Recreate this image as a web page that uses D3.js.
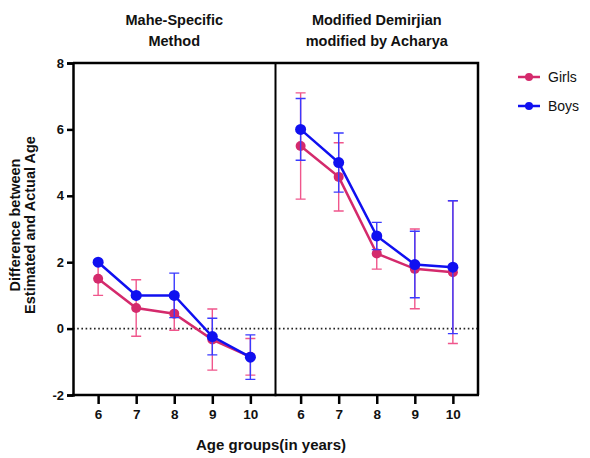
<!DOCTYPE html>
<html>
<head>
<meta charset="utf-8">
<script src="https://cdn.jsdelivr.net/npm/d3@7"></script>
<style>
  body { margin: 0; background: #fff; }
  text { font-family: "Liberation Sans", Arial, sans-serif; }
</style>
</head>
<body>
<svg id="chart" width="590" height="458"></svg>
<script>
var ages = ["6", "7", "8", "9", "10"];
var panels = ["Mahe-Specific\nMethod", "Modified Demirjian\nmodified by Acharya"];
var yTicks = [-2, 0, 2, 4, 6, 8];

// mean and error (+/-) per age group, one array per panel
var girlsMahe = [1.5, 0.62, 0.45, -0.33, -0.85];
var girlsMaheErr = [0.5, 0.85, 0.5, 0.92, 0.55];
var boysMahe = [2.0, 1.0, 1.0, -0.24, -0.86];
var boysMaheErr = [0.05, 0.05, 0.67, 0.55, 0.67];
var girlsDem = [5.5, 4.57, 2.26, 1.8, 1.7];
var girlsDemErr = [1.6, 1.03, 0.47, 1.2, 2.15];
var boysDem = [6.0, 5.0, 2.79, 1.93, 1.85];
var boysDemErr = [0.93, 0.89, 0.41, 1.0, 2.0];

var series = [
  {name: "Girls", color: "#d42a6c", errColor: "#f0568c", r: 5, values: [girlsMahe, girlsDem], errs: [girlsMaheErr, girlsDemErr]},
  {name: "Boys", color: "#1010f0", errColor: "#3a3aff", r: 5.5, values: [boysMahe, boysDem], errs: [boysMaheErr, boysDemErr]}
];

var svg = d3.select("#chart");
var plotLeft = 73, plotRight = 478, plotTop = 63, plotBottom = 395;

var y = d3.scaleLinear().domain([-2, 8]).range([plotBottom, plotTop]);
var panelX = d3.scaleBand().domain(d3.range(panels.length)).range([plotLeft, plotRight]);
var xs = panels.map(function(p, i) {
  return d3.scalePoint().domain(ages).range([panelX(i), panelX(i) + panelX.bandwidth()]).padding(0.66);
});

// zero line
svg.append("line")
  .attr("x1", plotLeft).attr("x2", plotRight)
  .attr("y1", y(0)).attr("y2", y(0))
  .attr("stroke", "#222").attr("stroke-width", 1.6)
  .attr("stroke-dasharray", "1.6,2.6");

// frame
svg.append("path")
  .attr("d", "M" + plotLeft + "," + plotTop + "H" + plotRight + "V" + plotBottom)
  .attr("fill", "none").attr("stroke", "#000").attr("stroke-width", 2.5);
svg.append("line")
  .attr("x1", panelX(1)).attr("x2", panelX(1))
  .attr("y1", plotTop).attr("y2", plotBottom)
  .attr("stroke", "#000").attr("stroke-width", 2);

// y axis
var yAxis = svg.append("g")
  .attr("transform", "translate(" + plotLeft + ",0)")
  .call(d3.axisLeft(y).tickValues(yTicks).tickFormat(String).tickSize(6).tickPadding(3));
yAxis.select(".domain").attr("stroke-width", 2.5);
yAxis.selectAll(".tick line").attr("stroke-width", 2.5);
yAxis.selectAll("text").attr("font-size", 13).attr("font-weight", "bold").attr("fill", "#111");

// x axes
xs.forEach(function(x) {
  var g = svg.append("g")
    .attr("transform", "translate(0," + plotBottom + ")")
    .call(d3.axisBottom(x).tickSize(9).tickPadding(5));
  g.select(".domain").attr("stroke-width", 2.5).attr("d", "M" + (x.range()[0] - 1) + ",0H" + (x.range()[1] + 1));
  g.selectAll(".tick line").attr("stroke-width", 2.5);
  g.selectAll("text").attr("font-size", 13.5).attr("font-weight", "bold").attr("fill", "#111");
});

// panel titles
panels.forEach(function(p, i) {
  var t = svg.append("text")
    .attr("text-anchor", "middle")
    .attr("font-size", 14.5).attr("font-weight", "bold")
    .attr("fill", "#111");
  p.split("\n").forEach(function(line, j) {
    t.append("tspan").attr("x", panelX(i) + panelX.bandwidth() / 2).attr("y", 25 + j * 21).text(line);
  });
});

// series
series.forEach(function(s) {
  xs.forEach(function(x, pi) {
    var vals = s.values[pi], errs = s.errs[pi];
    var g = svg.append("g");
    vals.forEach(function(v, k) {
      var cx = x(ages[k]);
      g.append("path")
        .attr("d", "M" + (cx - 5) + "," + y(v + errs[k]) + "H" + (cx + 5) +
          "M" + cx + "," + y(v + errs[k]) + "V" + y(v - errs[k]) +
          "M" + (cx - 5) + "," + y(v - errs[k]) + "H" + (cx + 5))
        .attr("fill", "none").attr("stroke", s.errColor).attr("stroke-width", 1.4);
    });
    g.append("path")
      .datum(vals)
      .attr("d", d3.line().x(function(d, k) { return x(ages[k]); }).y(function(d) { return y(d); }))
      .attr("fill", "none").attr("stroke", s.color).attr("stroke-width", 2.5);
    g.selectAll("circle").data(vals).enter().append("circle")
      .attr("cx", function(d, k) { return x(ages[k]); })
      .attr("cy", function(d) { return y(d); })
      .attr("r", s.r).attr("fill", s.color);
  });
});

// legend
series.forEach(function(s, i) {
  var ly = 77 + i * 29;
  svg.append("line").attr("x1", 518).attr("x2", 540).attr("y1", ly).attr("y2", ly)
    .attr("stroke", s.color).attr("stroke-width", 2.5);
  svg.append("circle").attr("cx", 529).attr("cy", ly).attr("r", 4).attr("fill", s.color);
  svg.append("text").attr("x", 548).attr("y", ly + 5)
    .attr("font-size", 14).attr("fill", "#111").text(s.name);
});

// axis titles
var yt = svg.append("text")
  .attr("transform", "translate(0,225) rotate(-90)")
  .attr("text-anchor", "middle")
  .attr("font-size", 14.5).attr("font-weight", "bold").attr("fill", "#111");
yt.append("tspan").attr("x", 0).attr("y", 20).text("Difference between");
yt.append("tspan").attr("x", 0).attr("y", 35).text("Estimated and Actual Age");

svg.append("text")
  .attr("x", 271).attr("y", 450)
  .attr("text-anchor", "middle")
  .attr("font-size", 15).attr("font-weight", "bold").attr("fill", "#111")
  .text("Age groups(in years)");
</script>
</body>
</html>
